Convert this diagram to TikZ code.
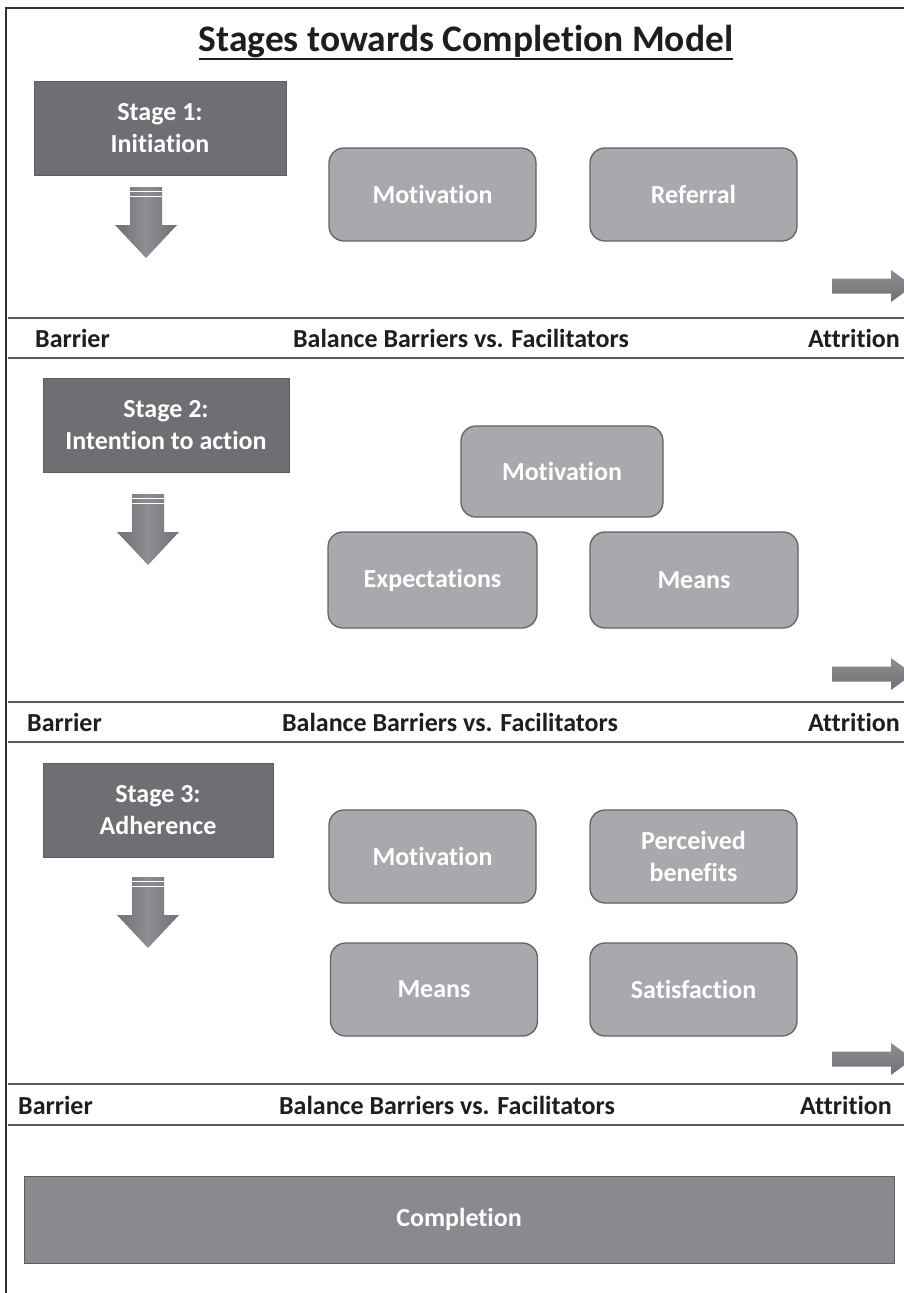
\documentclass[tikz,border=0pt]{standalone}
\usepackage{fontspec}
\setmainfont{Carlito}[Ligatures={NoCommon}]
\definecolor{stagefill}{HTML}{6E6F72}
\definecolor{stageedge}{HTML}{5C5D60}
\definecolor{roundfill}{HTML}{A8A9AC}
\definecolor{roundedge}{HTML}{626366}
\definecolor{compfill}{HTML}{898A8D}
\definecolor{arrowdark}{HTML}{6F7073}
\definecolor{arrowlight}{HTML}{8E8F92}
\definecolor{linecol}{HTML}{5A5B5D}
\definecolor{textcol}{HTML}{1E1E1E}
\newcommand{\dnarrow}[2]{%
  \shade[left color=arrowdark, right color=arrowdark, middle color=arrowlight]
    ({#1-16},#2) -- ({#1+16},#2) -- ({#1+16},{#2+38}) -- ({#1+31},{#2+38})
    -- (#1,{#2+71}) -- ({#1-31},{#2+38}) -- ({#1-16},{#2+38}) -- cycle;
  \draw[white, line width=0.8pt] ({#1-16},{#2+4}) -- ({#1+16},{#2+4});
  \draw[white, line width=0.8pt] ({#1-16},{#2+9}) -- ({#1+16},{#2+9});
}
\newcommand{\rtarrow}[1]{%
  \shade[top color=arrowlight, bottom color=arrowdark]
    (832,{#1-7.5}) -- (891,{#1-7.5}) -- (891,{#1-16}) -- (913,#1)
    -- (891,{#1+16}) -- (891,{#1+7.5}) -- (832,{#1+7.5}) -- cycle;
}
\begin{document}
\begin{tikzpicture}[x=1pt,y=-1pt,
  stagebox/.style={draw=stageedge, line width=1pt, fill=stagefill, text=white,
    minimum height=94pt, align=center, inner sep=0pt,
    font=\bfseries\fontsize{26}{32}\selectfont},
  roundbox/.style={draw=roundedge, line width=1.3pt, fill=roundfill, text=white,
    rounded corners=15pt, minimum width=207pt, minimum height=93pt, align=center,
    inner sep=0pt, font=\bfseries\fontsize{26}{32}\selectfont},
  lbl/.style={text=textcol, inner sep=0pt, font=\bfseries\fontsize{26}{30}\selectfont},
  sepline/.style={draw=linecol, line width=2.2pt},
]
\useasboundingbox (0,0) rectangle (904,1293);
\clip (0,0) rectangle (904,1293);
\fill[white] (0,0) rectangle (904,1293);
\draw[line width=1.2pt, black!80] (6,1300) -- (6,8) -- (910,8);

\node[text=textcol, inner sep=0pt, anchor=base, font=\bfseries\fontsize{37.5}{44}\selectfont] (title) at (466,51)
  {Stages towards Completion Model};
\draw[textcol, line width=2.6pt] ([yshift=-8pt]title.base west) -- ([yshift=-8pt]title.base east);

% ---- Stage 1
\node[stagebox, minimum width=252pt] (s1) at (160,128) {Stage 1:\\Initiation};
\dnarrow{146}{187}
\node[roundbox] (s1mot) at (432.5,194.5) {Motivation};
\node[roundbox] (s1ref) at (693.5,194.5) {Referral};
\rtarrow{286}
\draw[sepline] (8,318) -- (904,318);
\draw[sepline] (8,358) -- (904,358);
\node[lbl, anchor=west] (bar1) at (35,338) {Barrier};
\node[lbl] (bal1) at (461,338) {Balance Barriers vs. Facilitators};
\node[lbl, anchor=east] (att1) at (900,338) {Attrition};

% ---- Stage 2
\node[stagebox, minimum width=246pt] (s2) at (166,425) {Stage 2:\\Intention to action};
\dnarrow{148}{494}
\node[roundbox, minimum width=202pt, minimum height=91pt] (s2mot) at (562,471.5) {Motivation};
\node[roundbox, minimum width=209pt, minimum height=96pt] (s2exp) at (432.5,580) {Expectations};
\node[roundbox, minimum width=208pt, minimum height=96pt] (s2mea) at (694,580) {Means};
\rtarrow{674}
\draw[sepline] (8,702) -- (904,702);
\draw[sepline] (8,742) -- (904,742);
\node[lbl, anchor=west] (bar2) at (27,722) {Barrier};
\node[lbl] (bal2) at (450,722) {Balance Barriers vs. Facilitators};
\node[lbl, anchor=east] (att2) at (900,722) {Attrition};

% ---- Stage 3
\node[stagebox, minimum width=230pt] (s3) at (158,810.5) {Stage 3:\\Adherence};
\dnarrow{148}{877}
\node[roundbox] (s3mot) at (432.5,856.5) {Motivation};
\node[roundbox] (s3ben) at (693.5,856.5) {Perceived\\benefits};
\node[roundbox] (s3mea) at (434,989.5) {Means};
\node[roundbox] (s3sat) at (693.5,989.5) {Satisfaction};
\rtarrow{1059}
\draw[sepline] (8,1084) -- (904,1084);
\draw[sepline] (8,1125) -- (904,1125);
\node[lbl, anchor=west] (bar3) at (18,1105) {Barrier};
\node[lbl] (bal3) at (447,1105) {Balance Barriers vs. Facilitators};
\node[lbl, anchor=east] (att3) at (892,1105) {Attrition};

% ---- Completion
\node[draw=stageedge, line width=1pt, fill=compfill, text=white, minimum width=870pt,
  minimum height=87pt, inner sep=0pt, font=\bfseries\fontsize{26}{32}\selectfont]
  (comp) at (459,1219.5) {Completion};
\end{tikzpicture}
\end{document}
